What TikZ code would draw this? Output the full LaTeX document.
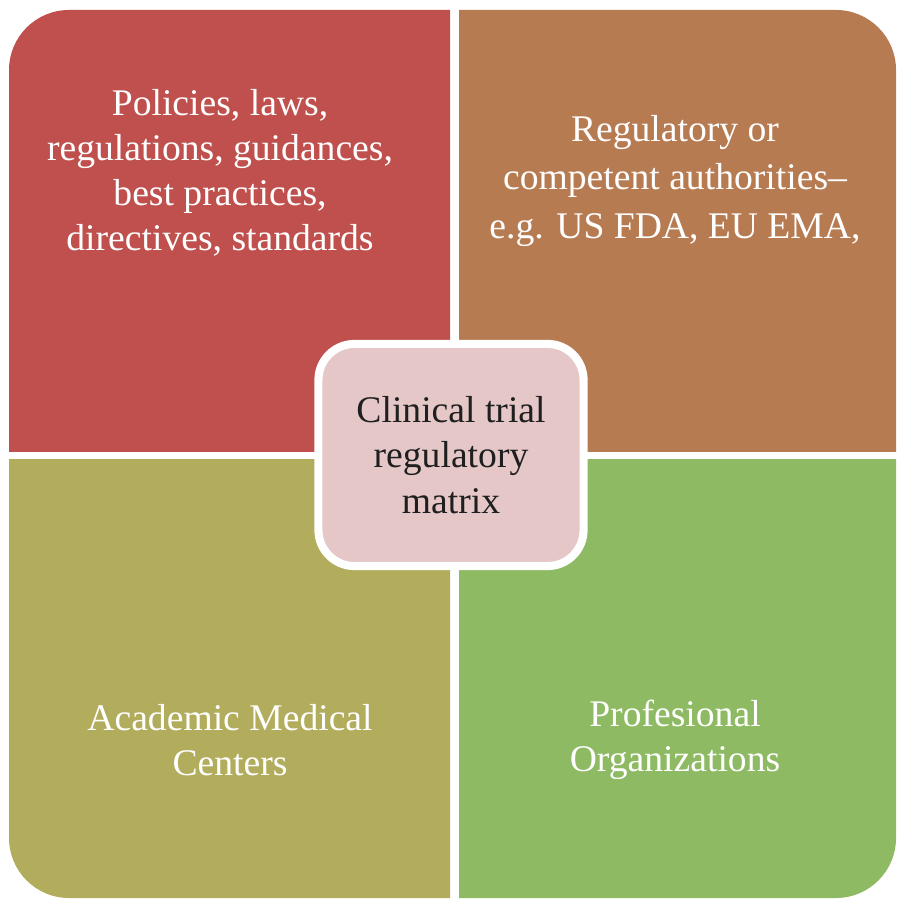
\documentclass[tikz,border=0pt]{standalone}
\usepackage{fontspec}
\setmainfont{Liberation Serif}
\definecolor{rulesred}{HTML}{C0504D}
\definecolor{authbrown}{HTML}{B77B52}
\definecolor{acadolive}{HTML}{B2AC5D}
\definecolor{profgreen}{HTML}{8DBA62}
\definecolor{corepink}{HTML}{E5C7C8}
\begin{document}
\begin{tikzpicture}[x=0.01cm,y=-0.01cm,
    lbl/.style={align=center,text=white,font=\fontsize{10.7}{12.8}\selectfont},
    core/.style={draw=white,line width=2.3pt,fill=corepink,rounded corners=0.36cm,
      minimum width=2.65cm,minimum height=2.22cm,align=center,text=black!88,
      font=\fontsize{10.7}{13}\selectfont}]
  \useasboundingbox (0,0) rectangle (900,904);
  % four quarters cut out of one rounded square
  \foreach \xa/\ya/\xb/\yb/\col in {0/0/450/452/rulesred, 459/0/900/452/authbrown,
      0/460/450/904/acadolive, 459/460/900/904/profgreen}{
    \begin{scope}
      \clip (\xa,\ya) rectangle (\xb,\yb);
      \fill[\col, rounded corners=0.6cm] (9,10) rectangle (896,898);
    \end{scope}
  }
  \draw
    (220,173) node[lbl] (rules){Policies, laws,\\regulations, guidances,\\best practices,\\directives, standards}
    (675,181) node[lbl] (auth){Regulatory or\\[1pt]competent authorities--\\[1pt]e.g. US FDA, EU EMA,}
    (230,740) node[lbl] (acad){Academic Medical\\Centers}
    (675,740) node[lbl] (prof){Profesional\\Organizations};
  \node[core] (matrix) at (451,455) {Clinical trial\\regulatory\\matrix};
\end{tikzpicture}
\end{document}
